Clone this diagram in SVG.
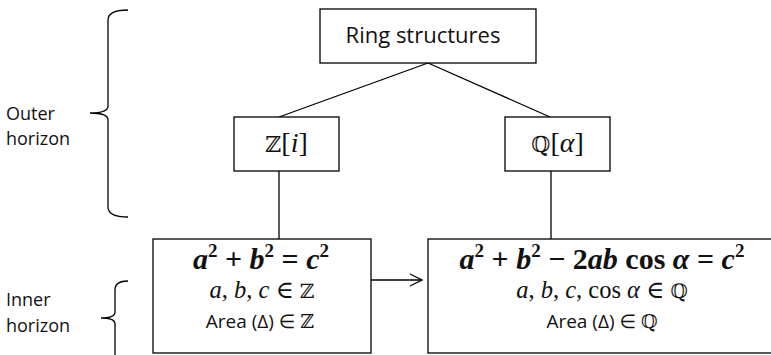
<svg xmlns="http://www.w3.org/2000/svg" width="771" height="355" viewBox="0 0 771 355">
<defs>
<style>
.box{fill:#fff;stroke:#000;stroke-width:1.3}
.ln{fill:none;stroke:#000;stroke-width:1.3}
.sans{font-family:"Open Sans","Noto Sans","DejaVu Sans",sans-serif;fill:#111}
.math{font-family:"Liberation Serif","DejaVu Serif",serif;fill:#111}
.bb{font-family:"DejaVu Serif","DejaVu Sans",serif;fill:#111}
</style>
<marker id="arr" markerWidth="16" markerHeight="14" refX="13" refY="7" orient="auto" markerUnits="userSpaceOnUse">
<path d="M1,1 L13,7 L1,13" fill="none" stroke="#000" stroke-width="1.3"/>
</marker>
</defs>
<rect width="771" height="355" fill="#fff"/>

<g id="labels">
<text class="sans" x="6" y="120" font-size="18">Outer</text>
<text class="sans" x="6" y="145" font-size="18">horizon</text>
<text class="sans" x="6" y="306" font-size="18">Inner</text>
<text class="sans" x="6" y="332" font-size="18">horizon</text>
<path class="ln" d="M128,10 Q108,10 108,20 L108,106 Q108,113 90,113 Q108,113 108,120 L108,207 Q108,217 128,217"/>
<path class="ln" d="M128,281 Q115,281 115,290 L115,312 Q115,318 101,318 Q115,318 115,324 L115,356"/>
</g>

<g id="connectors">
<line class="ln" x1="428" y1="63" x2="279" y2="117"/>
<line class="ln" x1="428" y1="63" x2="550" y2="117"/>
<line class="ln" x1="279" y1="171" x2="279" y2="239"/>
<line class="ln" x1="551" y1="171" x2="551" y2="239"/>
<line class="ln" x1="371" y1="280" x2="422" y2="280" marker-end="url(#arr)"/>
</g>

<g id="ring">
<rect class="box" x="320" y="9" width="216" height="54"/>
<text class="sans" x="423" y="43" font-size="22" text-anchor="middle">Ring structures</text>
</g>

<g id="zi">
<rect class="box" x="234" y="117" width="105" height="54"/>
<text class="math" x="286.5" y="152" font-size="28" text-anchor="middle"><tspan class="bb" font-size="22">ℤ</tspan>[<tspan font-style="italic">i</tspan>]</text>
</g>

<g id="qa">
<rect class="box" x="505" y="117" width="105" height="54"/>
<text class="math" x="557.5" y="152" font-size="28" text-anchor="middle"><tspan class="bb" font-size="22">ℚ</tspan>[<tspan font-style="italic">α</tspan>]</text>
</g>

<g id="pythagoras">
<rect class="box" x="153" y="239" width="218" height="114"/>
<text class="math" x="261" y="269" font-size="30" font-weight="bold" text-anchor="middle"><tspan font-style="italic">a</tspan><tspan font-size="19" dy="-12">2</tspan><tspan dy="12"> + </tspan><tspan font-style="italic">b</tspan><tspan font-size="19" dy="-12">2</tspan><tspan dy="12"> = </tspan><tspan font-style="italic">c</tspan><tspan font-size="19" dy="-12">2</tspan></text>
<text class="math" x="262" y="298" font-size="24.5" text-anchor="middle"><tspan font-style="italic">a</tspan>, <tspan font-style="italic">b</tspan>, <tspan font-style="italic">c</tspan> ∈ <tspan class="bb" font-size="20">ℤ</tspan></text>
<text class="sans" x="260" y="328" font-size="19" text-anchor="middle">Area (Δ) ∈ <tspan class="bb" font-size="19">ℤ</tspan></text>
</g>

<g id="cosine">
<rect class="box" x="428" y="239" width="345" height="114"/>
<text class="math" x="602" y="269" font-size="30" font-weight="bold" text-anchor="middle"><tspan font-style="italic">a</tspan><tspan font-size="19" dy="-12">2</tspan><tspan dy="12"> + </tspan><tspan font-style="italic">b</tspan><tspan font-size="19" dy="-12">2</tspan><tspan dy="12"> − 2</tspan><tspan font-style="italic">ab</tspan> cos <tspan font-style="italic">α</tspan> = <tspan font-style="italic">c</tspan><tspan font-size="19" dy="-12">2</tspan></text>
<text class="math" x="602" y="298" font-size="24.5" text-anchor="middle"><tspan font-style="italic">a</tspan>, <tspan font-style="italic">b</tspan>, <tspan font-style="italic">c</tspan>, cos <tspan font-style="italic">α</tspan> ∈ <tspan class="bb" font-size="20">ℚ</tspan></text>
<text class="sans" x="602" y="328" font-size="19" text-anchor="middle">Area (Δ) ∈ <tspan class="bb" font-size="19">ℚ</tspan></text>
</g>
</svg>
